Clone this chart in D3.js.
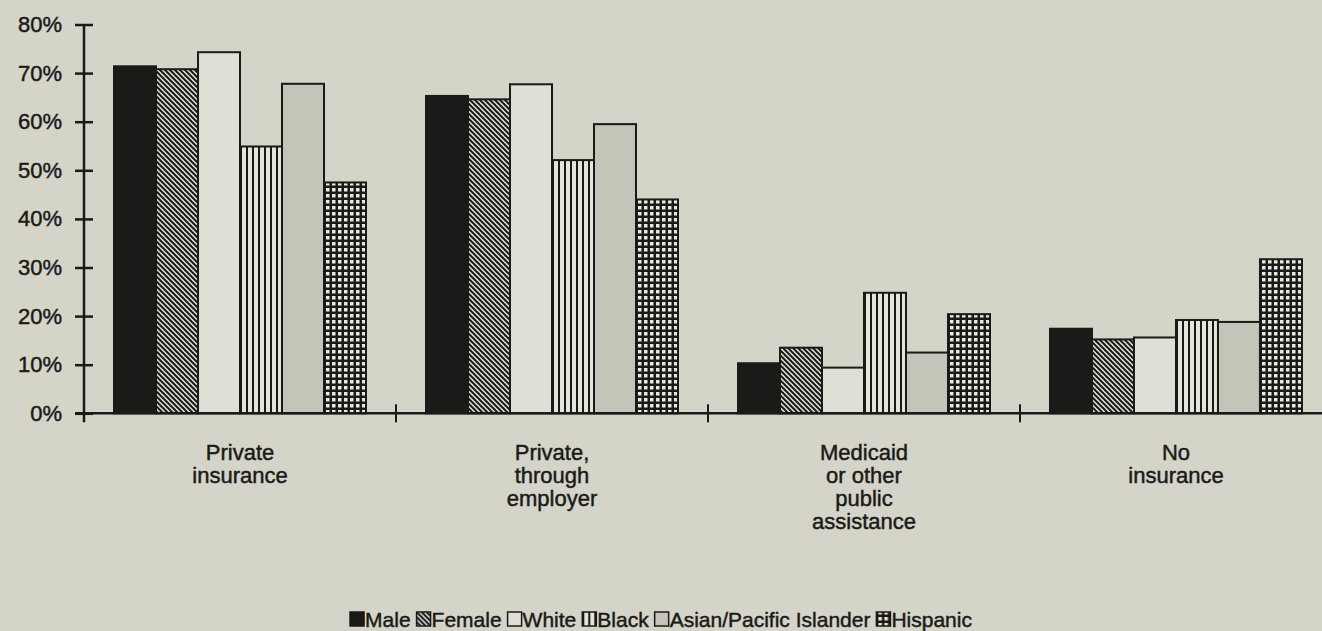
<!DOCTYPE html>
<html>
<head>
<meta charset="utf-8">
<script src="https://cdn.jsdelivr.net/npm/d3@7"></script>
<style>
  html, body { margin: 0; padding: 0; background: #d4d4c8; }
  svg { display: block; }
  text { font-family: "Liberation Sans", Arial, sans-serif; fill: #1a1a18; stroke: #1a1a18; stroke-width: 0.45px; }
</style>
</head>
<body>
<svg id="chart" width="1322" height="631"></svg>
<script>
// ---- Data ----
const categories = [
  ["Private", "insurance"],
  ["Private,", "through", "employer"],
  ["Medicaid", "or other", "public", "assistance"],
  ["No", "insurance"]
];
const seriesNames = ["Male", "Female", "White", "Black", "Asian/Pacific Islander", "Hispanic"];
const male     = [71.4, 65.3, 10.3, 17.4];
const female   = [70.8, 64.6, 13.5, 15.2];
const white    = [74.3, 67.7,  9.4, 15.6];
const black    = [54.9, 52.1, 24.8, 19.2];
const asian    = [67.8, 59.5, 12.5, 18.8];
const hispanic = [47.5, 44.0, 20.4, 31.7];
const yTicks = [0, 10, 20, 30, 40, 50, 60, 70, 80];

const seriesValues = [male, female, white, black, asian, hispanic];

// ---- Layout ----
const svg = d3.select("#chart");
const W = 1322, H = 631;
const mLeft = 84, mRight = 1332, mTop = 24.5, mBottom = 413.3;
const BG = "#d4d4c8";
const INK = "#1a1a18";
const FONT = '"Liberation Sans", Arial, sans-serif';

svg.append("rect").attr("width", W).attr("height", H).attr("fill", BG);

// ---- Patterns ----
const defs = svg.append("defs");
// Female: diagonal "\" hatch
const pf = defs.append("pattern").attr("id", "pFemale").attr("patternUnits", "userSpaceOnUse")
  .attr("width", 5).attr("height", 5);
pf.append("rect").attr("width", 5).attr("height", 5).attr("fill", "#e2e2d8");
pf.append("path").attr("d", "M-1,-1 L6,6 M-1,4 L1,6 M4,-1 L6,1").attr("stroke", INK).attr("stroke-width", 2);
// Black: vertical stripes
const pb = defs.append("pattern").attr("id", "pBlack").attr("patternUnits", "userSpaceOnUse")
  .attr("width", 6).attr("height", 6);
pb.append("rect").attr("width", 6).attr("height", 6).attr("fill", "#e4e4da");
pb.append("rect").attr("x", 0).attr("width", 2).attr("height", 6).attr("fill", INK);
// Hispanic: grid
const ph = defs.append("pattern").attr("id", "pHispanic").attr("patternUnits", "userSpaceOnUse")
  .attr("width", 6).attr("height", 6);
ph.append("rect").attr("width", 6).attr("height", 6).attr("fill", INK);
ph.append("rect").attr("x", 2).attr("y", 2).attr("width", 3.5).attr("height", 3.5).attr("fill", "#e8e8de");

const fills = [INK, "url(#pFemale)", "#dfdfd5", "url(#pBlack)", "#c4c4b8", "url(#pHispanic)"];

// ---- Scales ----
const x0 = d3.scaleBand().domain(d3.range(categories.length)).range([mLeft, mRight])
  .paddingInner(0.1923).paddingOuter(0.0962);
const x1 = d3.scaleBand().domain(d3.range(seriesNames.length)).range([0, x0.bandwidth()]);
const y = d3.scaleLinear().domain([0, 80]).range([mBottom, mTop]);

// ---- Bars ----
const g = svg.append("g");
categories.forEach((c, ci) => {
  seriesValues.forEach((vals, si) => {
    g.append("rect")
      .attr("x", x0(ci) + x1(si))
      .attr("y", y(vals[ci]))
      .attr("width", x1.bandwidth())
      .attr("height", y(0) - y(vals[ci]))
      .attr("fill", fills[si])
      .attr("stroke", INK)
      .attr("stroke-width", 2);
  });
});

// ---- Y axis ----
const yAxis = d3.axisLeft(y).tickValues(yTicks).tickFormat(d => d + "%").tickSize(0).tickPadding(22);
const yg = svg.append("g").attr("transform", `translate(${mLeft},0)`).call(yAxis);
yg.select(".domain").remove();
yg.selectAll("text").attr("font-size", 22).attr("fill", INK).style("font-family", FONT);
yg.selectAll(".tick").append("line").attr("x1", -9).attr("x2", 9).attr("stroke", INK).attr("stroke-width", 2.5);
svg.append("line").attr("x1", mLeft).attr("x2", mLeft).attr("y1", mTop).attr("y2", mBottom + 9)
  .attr("stroke", INK).attr("stroke-width", 2.5);

// ---- X axis ----
svg.append("line").attr("x1", mLeft - 9).attr("x2", W).attr("y1", mBottom).attr("y2", mBottom)
  .attr("stroke", INK).attr("stroke-width", 2.5);
const step = x0.step();
categories.forEach((c, ci) => {
  if (ci > 0) {
    const xs = x0(ci) - x0.paddingOuter() * step;
    svg.append("line").attr("x1", xs).attr("x2", xs).attr("y1", mBottom - 9).attr("y2", mBottom + 9)
      .attr("stroke", INK).attr("stroke-width", 2);
  }
  const cx = x0(ci) + x0.bandwidth() / 2;
  const t = svg.append("text").attr("text-anchor", "middle").attr("font-size", 22);
  c.forEach((line, li) => {
    t.append("tspan").attr("x", cx).attr("y", 460 + li * 23).text(line);
  });
});

// ---- Legend ----
const legend = svg.append("g");
let cursor = 0;
const sw = 14, gapAfterSwatch = 1, gapBetween = 6;
seriesNames.forEach((name, i) => {
  const it = legend.append("g");
  it.append("rect").attr("x", 0).attr("y", -15).attr("width", sw).attr("height", sw)
    .attr("fill", fills[i]).attr("stroke", INK).attr("stroke-width", 1.5);
  const tx = it.append("text").attr("x", sw + gapAfterSwatch).attr("y", 0).attr("font-size", 21).text(name);
  const w = sw + gapAfterSwatch + tx.node().getComputedTextLength();
  it.attr("transform", `translate(${cursor},0)`);
  cursor += w + gapBetween;
});
const totalW = cursor - gapBetween;
legend.attr("transform", `translate(${661 - totalW / 2},627)`);
</script>
</body>
</html>
